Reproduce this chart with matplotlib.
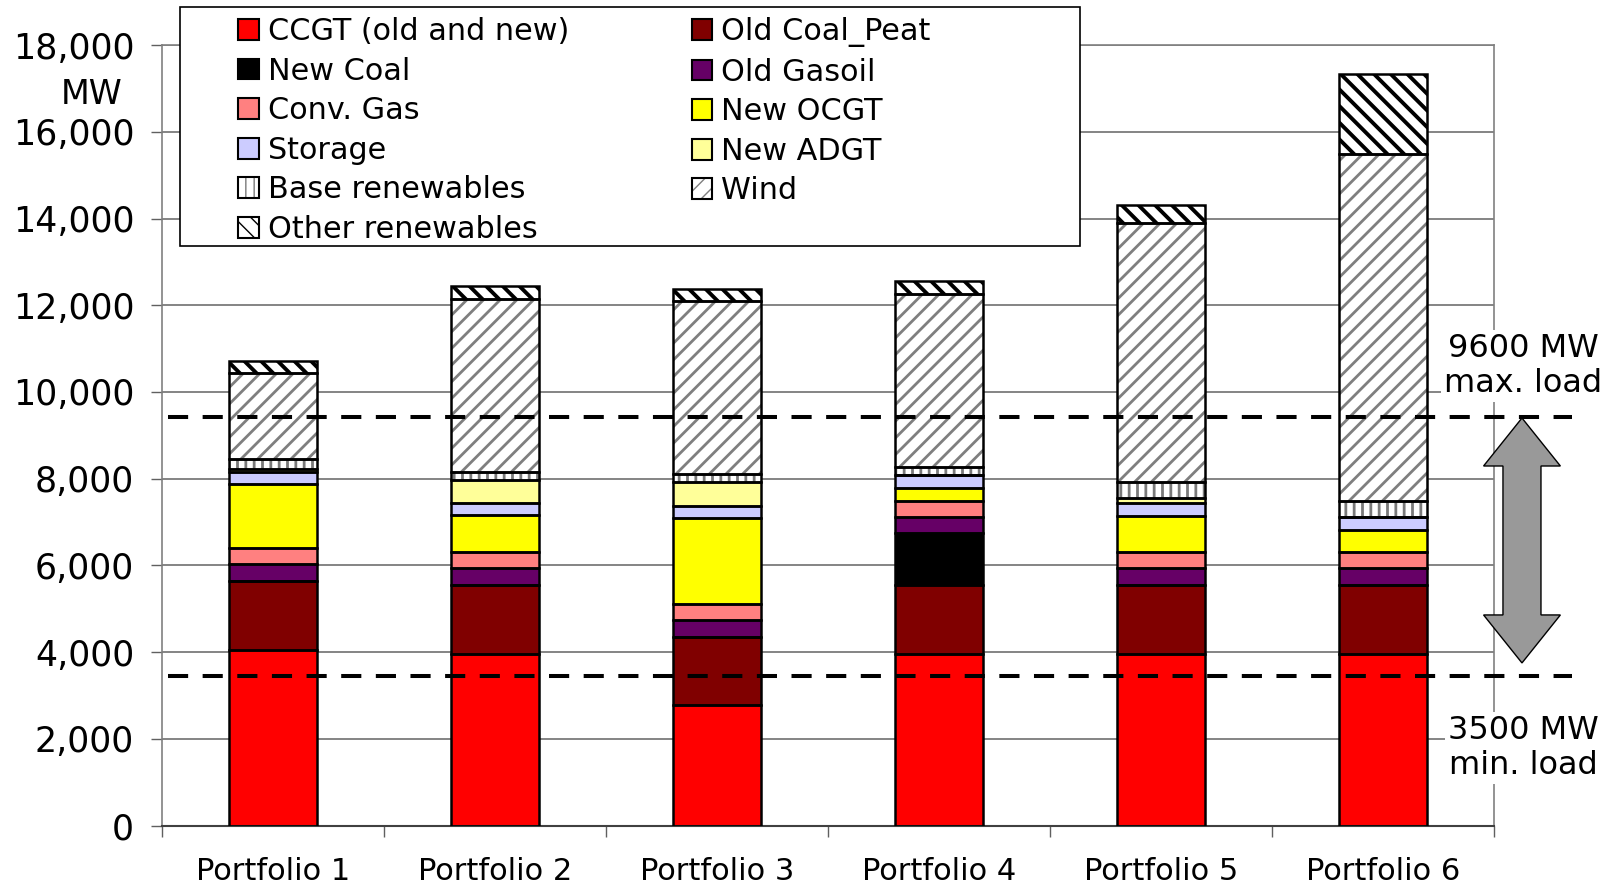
# |==============| Bibliotheken |==============|
import numpy as np
import matplotlib
matplotlib.use('Agg')
import matplotlib.pyplot as plt
import matplotlib.patches as mpatches

plt.rcParams['font.family'] = ['DejaVu Sans']

# |==============| Daten |==============|
portfolios = ['Portfolio 1', 'Portfolio 2', 'Portfolio 3', 'Portfolio 4', 'Portfolio 5', 'Portfolio 6']

ccgt = [4050, 3950, 2770, 3950, 3950, 3950]
old_coal = [1600, 1605, 1580, 1595, 1605, 1605]
new_coal = [0, 0, 0, 1195, 0, 0]
old_gasoil = [385, 385, 385, 370, 385, 385]
conv_gas = [375, 380, 375, 370, 380, 370]
new_ocgt = [1460, 840, 1975, 310, 830, 510]
storage = [280, 280, 290, 300, 285, 285]
new_adgt = [80, 540, 540, 0, 120, 0]
base_ren = [215, 185, 190, 175, 360, 390]
wind = [2000, 3985, 3985, 3990, 5990, 8000]
other_ren = [275, 300, 295, 300, 415, 1830]

max_load = 9420   # Linie wie im Original gezeichnet
min_load = 3450
yticks = [0, 2000, 4000, 6000, 8000, 10000, 12000, 14000, 16000, 18000]
ytick_labels = ['0', '2,000', '4,000', '6,000', '8,000', '10,000', '12,000', '14,000', '16,000', '18,000']

# Reihenfolge von unten nach oben
series = [
    ('CCGT (old and new)', ccgt, '#FF0000', ''),
    ('Old Coal_Peat', old_coal, '#800000', ''),
    ('New Coal', new_coal, '#000000', ''),
    ('Old Gasoil', old_gasoil, '#660066', ''),
    ('Conv. Gas', conv_gas, '#FF8080', ''),
    ('New OCGT', new_ocgt, '#FFFF00', ''),
    ('Storage', storage, '#CCCCFF', ''),
    ('New ADGT', new_adgt, '#FFFF99', ''),
    ('Base renewables', base_ren, '#FFFFFF', '||'),
    ('Wind', wind, '#FFFFFF', '//'),
    ('Other renewables', other_ren, '#FFFFFF', '\\\\'),
]
hatch_col = {'': 'none', '||': '#7A7A7A', '//': '#7F7F7F', '\\\\': '#000000'}
hatch_lw = {'': 1.0, '||': 2.0, '//': 2.0, '\\\\': 2.8}

# |==============| Plot |==============|
fig = plt.figure(figsize=(16.12, 8.86), dpi=100)
ax = fig.add_axes([162 / 1612, 1 - 825.5 / 886, 1332 / 1612, 780.3 / 886])

x = np.arange(len(portfolios))
width = 0.4
bottom = np.zeros(len(portfolios))
handles = {}
for name, vals, col, hatch in series:
    vals = np.array(vals, dtype=float)
    with plt.rc_context({'hatch.linewidth': hatch_lw[hatch]}):
        ax.bar(x, vals, width, bottom=bottom, color=col, hatch=hatch,
               edgecolor=hatch_col[hatch], linewidth=0, zorder=2)
        h1 = mpatches.Rectangle((0, 0), 1, 1, facecolor=col, hatch=hatch,
                                edgecolor=hatch_col[hatch], linewidth=0)
    ax.bar(x, vals, width, bottom=bottom, fill=False, edgecolor='black',
           linewidth=1.8, zorder=3)
    h2 = mpatches.Rectangle((0, 0), 1, 1, fill=False, edgecolor='black', linewidth=1.5)
    handles[name] = (h1, h2)
    bottom += vals

# Lastlinien
for yv in [max_load, min_load]:
    ax.plot([-0.473, 5.851], [yv, yv], color='black', lw=2.9, dashes=(5, 3.6),
            zorder=4, clip_on=False, dash_capstyle='butt')

# Doppelpfeil
xc, sw, hw = 5.626, 0.0856, 0.173
top, bot, hl = 9400, 3750, 1107
arrow = mpatches.Polygon([[xc, top], [xc + hw, top - hl], [xc + sw, top - hl], [xc + sw, bot + hl],
                          [xc + hw, bot + hl], [xc, bot], [xc - hw, bot + hl], [xc - sw, bot + hl],
                          [xc - sw, top - hl], [xc - hw, top - hl]],
                         closed=True, facecolor='#999999', edgecolor='black', lw=1.0,
                         clip_on=False, zorder=5)
ax.add_patch(arrow)

# Achsen
ax.set_xlim(-0.5, 5.5)
ax.set_ylim(0, 18000)
ax.set_yticks(yticks)
ax.set_yticklabels(ytick_labels, fontsize=25)
ax.tick_params(axis='y', length=8, width=1, color='#606060', pad=12)
ax.set_xticks(np.arange(-0.5, 6, 1))
ax.set_xticklabels([])
ax.tick_params(axis='x', which='major', length=8, width=1, color='#606060')
ax.set_xticks(x, minor=True)
ax.set_xticklabels(portfolios, minor=True, fontsize=22)
ax.tick_params(axis='x', which='minor', length=0, pad=23)
ax.grid(axis='y', color='#707070', lw=1.2, zorder=0)
ax.set_axisbelow(True)
for s in ['left', 'right', 'top']:
    ax.spines[s].set_color('#808080')
    ax.spines[s].set_linewidth(1.2)
ax.spines['bottom'].set_color('#404040')
ax.spines['bottom'].set_linewidth(1.5)

fig.text(91.5 / 1612, 1 - 94.6 / 886, 'MW', fontsize=24, ha='center', va='center')

# Beschriftung rechts
box = dict(facecolor='white', edgecolor='none', pad=2)
fig.text(1523 / 1612, 1 - 366 / 886, '9600 MW\nmax. load', fontsize=23, ha='center', va='center',
         linespacing=1.2, bbox=box, zorder=6)
fig.text(1523 / 1612, 1 - 748 / 886, '3500 MW\nmin. load', fontsize=23, ha='center', va='center',
         linespacing=1.2, bbox=box, zorder=6)

# Legende
order = ['CCGT (old and new)', 'New Coal', 'Conv. Gas', 'Storage', 'Base renewables', 'Other renewables',
         'Old Coal_Peat', 'Old Gasoil', 'New OCGT', 'New ADGT', 'Wind']
leg = fig.legend([handles[n] for n in order], order, ncol=2, loc='upper left',
                 bbox_to_anchor=(238 / 1612, 1 - 17 / 886), frameon=False, fontsize=21.8,
                 handlelength=0.68, handleheight=0.68, handletextpad=0.3, labelspacing=0.35,
                 columnspacing=4.05, borderpad=0, borderaxespad=0)
frame = mpatches.Rectangle((180 / 1612, 1 - 246 / 886), 900 / 1612, 239 / 886, transform=fig.transFigure,
                           fill=True, facecolor='white', edgecolor='black', lw=1.2, zorder=1)
fig.patches.append(frame)

fig.savefig('out.png', dpi=100)
